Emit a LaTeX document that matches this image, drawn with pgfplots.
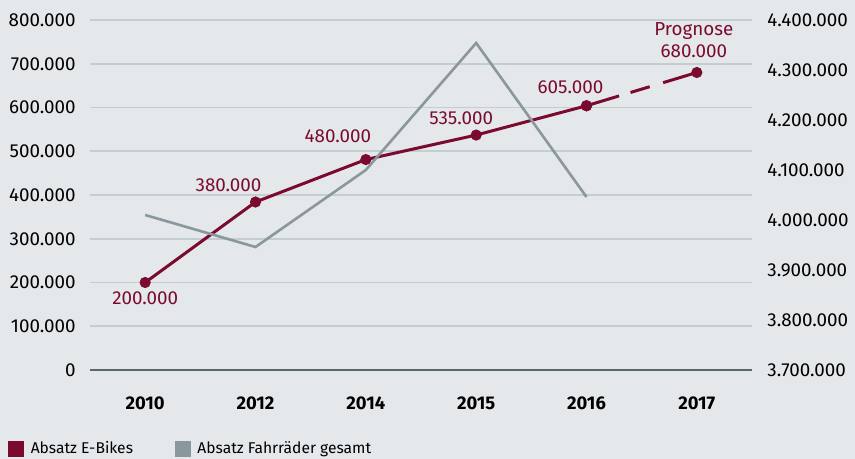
\documentclass[border=0pt]{standalone}
\usepackage{pgfplots}
\pgfplotsset{compat=1.18}
\usepackage{fontspec}
\setmainfont{Fira Sans}
\definecolor{bgc}{HTML}{E4E8EB}
\definecolor{gridc}{HTML}{C4CDD2}
\definecolor{axisc}{HTML}{5C676D}
\definecolor{ebike}{HTML}{7B0A2F}
\definecolor{rad}{HTML}{8A989E}
\newcommand{\tickfont}{\fontsize{9.4}{11}\selectfont}
\pgfplotsset{
  base/.style={
    at={(0pt,0pt)}, anchor=south west,
    scale only axis, width=331pt, height=175pt,
    xmin=-0.5, xmax=5.5,
    axis line style={draw=none},
    major tick length=0pt,
    clip=false,
    scaled y ticks=false,
    /pgf/number format/1000 sep={.},
    /pgf/number format/fixed,
    /pgf/number format/precision=0,
    /pgf/number format/assume math mode=true,
    tick label style={font=\tickfont, text=black},
  },
}
\begin{document}
\begin{tikzpicture}
\fill[bgc] (-45pt,-44.5pt) rectangle (382.5pt,185pt);
\useasboundingbox (-45pt,-44.5pt) rectangle (382.5pt,185pt);
\begin{axis}[
  base,
  ymin=0, ymax=800000,
  ytick={0,100000,200000,300000,400000,500000,600000,700000,800000},
  ymajorgrids,
  major grid style={draw=gridc, line width=0.8pt},
  xtick={0,1,2,3,4,5},
  xticklabels={2010,2012,2014,2015,2016,2017},
  xticklabel style={anchor=center, yshift=-16.5pt, font=\fontsize{9.2}{11}\selectfont\bfseries},
  yticklabel style={anchor=east, inner sep=0pt, xshift=-7pt},
  legend style={at={(axis description cs:-0.1239,-0.2257)}, anchor=west,
    draw=none, fill=none, inner sep=0pt, font=\fontsize{7.8}{10}\selectfont,
    legend columns=2,
    /tikz/every even column/.append style={column sep=19pt},
    /tikz/every odd column/.append style={column sep=1.2pt}},
  legend cell align=left,
  legend image code/.code={\fill[#1, draw=none] (0pt,-4pt) rectangle (8pt,4pt);},
]
\draw[axisc, line width=1.3pt] (rel axis cs:0,0) -- (rel axis cs:1,0);
\addplot[ebike, line width=1.5pt, mark=*, mark size=2pt] coordinates {
  (0,200000) (1,384000) (2,481000) (3,537000) (4,604000)
};
\addlegendentry{Absatz E-Bikes}
\addplot[ebike, line width=1.5pt, dash pattern=on 17pt off 6pt on 10pt off 7pt on 20pt off 0pt,
  mark=*, mark size=2pt, mark options={solid}, forget plot] coordinates {
  (4,604000) (5,680000)
};
\addlegendimage{rad}
\addlegendentry{Absatz Fahrräder gesamt}
\begin{scope}[every node/.style={font=\tickfont, text=ebike, inner sep=0pt}]
\node at (axis cs:0,200000) [yshift=-8pt] {200.000};
\node at (axis cs:1,384000) [xshift=-13.5pt, yshift=8.5pt] {380.000};
\node at (axis cs:2,481000) [xshift=-14pt, yshift=11.5pt] {480.000};
\node at (axis cs:3,537000) [xshift=-7.5pt, yshift=8.5pt] {535.000};
\node at (axis cs:4,604000) [xshift=-8pt, yshift=9.5pt] {605.000};
\node at (axis cs:5,680000) [xshift=-1.5pt, yshift=16pt, align=center] {Prognose\\680.000};
\end{scope}
\end{axis}
\begin{axis}[
  base,
  ymin=3700000, ymax=4400000,
  ytick={3700000,3800000,3900000,4000000,4100000,4200000,4300000,4400000},
  xtick=\empty,
  yticklabel pos=right,
  yticklabel style={anchor=west, inner sep=0pt, xshift=7.5pt},
]
\addplot[rad, line width=1.3pt] coordinates {
  (0,4010000) (1,3946000) (2,4100000) (3,4354000) (4,4046000)
};
\end{axis}
\end{tikzpicture}
\end{document}
